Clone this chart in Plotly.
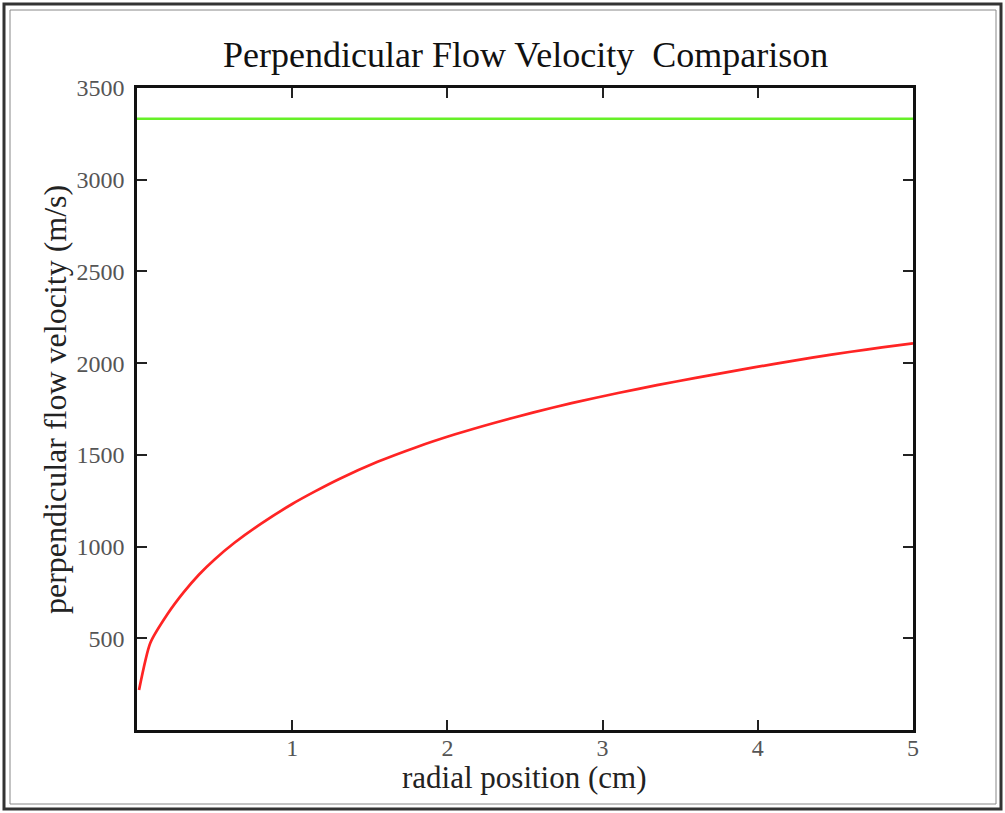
import plotly.graph_objects as go

# radial position (cm) and perpendicular flow velocity (m/s)
radial_cm = [0.013, 0.085, 0.2, 0.3, 0.4, 0.5, 0.63, 0.8, 1.0, 1.15, 1.3, 1.55, 1.8, 2.05,
             2.3, 2.55, 2.8, 3.1, 3.35, 3.6, 3.85, 4.1, 4.35, 4.6, 4.8, 5.0]
velocity_red = [218, 473, 636, 750, 848, 930, 1022, 1125, 1232, 1302, 1367, 1462, 1542, 1612,
                1674, 1730, 1782, 1837, 1880, 1920, 1958, 1995, 2030, 2062, 2086, 2108]
radial_green = [0.0, 5.0]
velocity_green = [3333, 3333]

x_ticks = [1, 2, 3, 4, 5]
y_ticks = [500, 1000, 1500, 2000, 2500, 3000, 3500]

title_text = "Perpendicular Flow Velocity\u00a0\u00a0Comparison"
x_title = "radial position (cm)"
y_title = "perpendicular flow velocity (m/s)"

FONT = "Liberation Serif"

fig = go.Figure()
fig.add_trace(go.Scatter(x=radial_green, y=velocity_green, mode="lines",
                         line=dict(color="#66f028", width=2.5), showlegend=False))
fig.add_trace(go.Scatter(x=radial_cm, y=velocity_red, mode="lines",
                         line=dict(color="#ff2424", width=2.7, shape="spline", smoothing=0.6),
                         showlegend=False))

L, R, T, B = 137, 92, 88, 83
W, H = 1005, 813
pw, ph = W - L - R, H - T - B

def px(xp):
    return (xp - L) / pw

def py(yp):
    return (H - B - yp) / ph

fig.update_layout(
    width=W, height=H,
    margin=dict(l=L, r=R, t=T, b=B),
    paper_bgcolor="white", plot_bgcolor="white",
    font=dict(family=FONT, color="#333"),
    xaxis=dict(range=[0, 5], tickvals=x_ticks, ticks="inside", ticklen=10, tickwidth=1.5,
               tickcolor="#222", showline=True, linecolor="#111", linewidth=2.5,
               mirror="ticks", showgrid=False, zeroline=False,
               tickfont=dict(family=FONT, size=24, color="#555"), ticklabelstandoff=-6),
    yaxis=dict(range=[0, 3500], tickvals=y_ticks, ticks="inside", ticklen=10, tickwidth=1.5,
               tickcolor="#222", showline=True, linecolor="#111", linewidth=2.5,
               mirror="ticks", showgrid=False, zeroline=False,
               tickfont=dict(family=FONT, size=24, color="#555"), ticklabelstandoff=5),
    annotations=[
        dict(text=title_text, x=px(525), y=py(55), xref="paper", yref="paper",
             showarrow=False, xanchor="center", yanchor="middle",
             font=dict(family=FONT, size=36, color="#111")),
        dict(text=x_title, x=px(524), y=py(777), xref="paper", yref="paper",
             showarrow=False, xanchor="center", yanchor="middle",
             font=dict(family=FONT, size=31, color="#222")),
        dict(text=y_title, x=px(55), y=py(400), xref="paper", yref="paper",
             showarrow=False, xanchor="center", yanchor="middle", textangle=-90,
             font=dict(family=FONT, size=32, color="#222")),
    ],
    shapes=[
        dict(type="rect", xref="paper", yref="paper",
             x0=px(4), x1=px(1001), y0=py(809), y1=py(4),
             line=dict(color="#333", width=3)),
        dict(type="rect", xref="paper", yref="paper",
             x0=px(10), x1=px(996), y0=py(804), y1=py(10),
             line=dict(color="#888", width=1)),
    ],
)

fig.write_html("out.html")
